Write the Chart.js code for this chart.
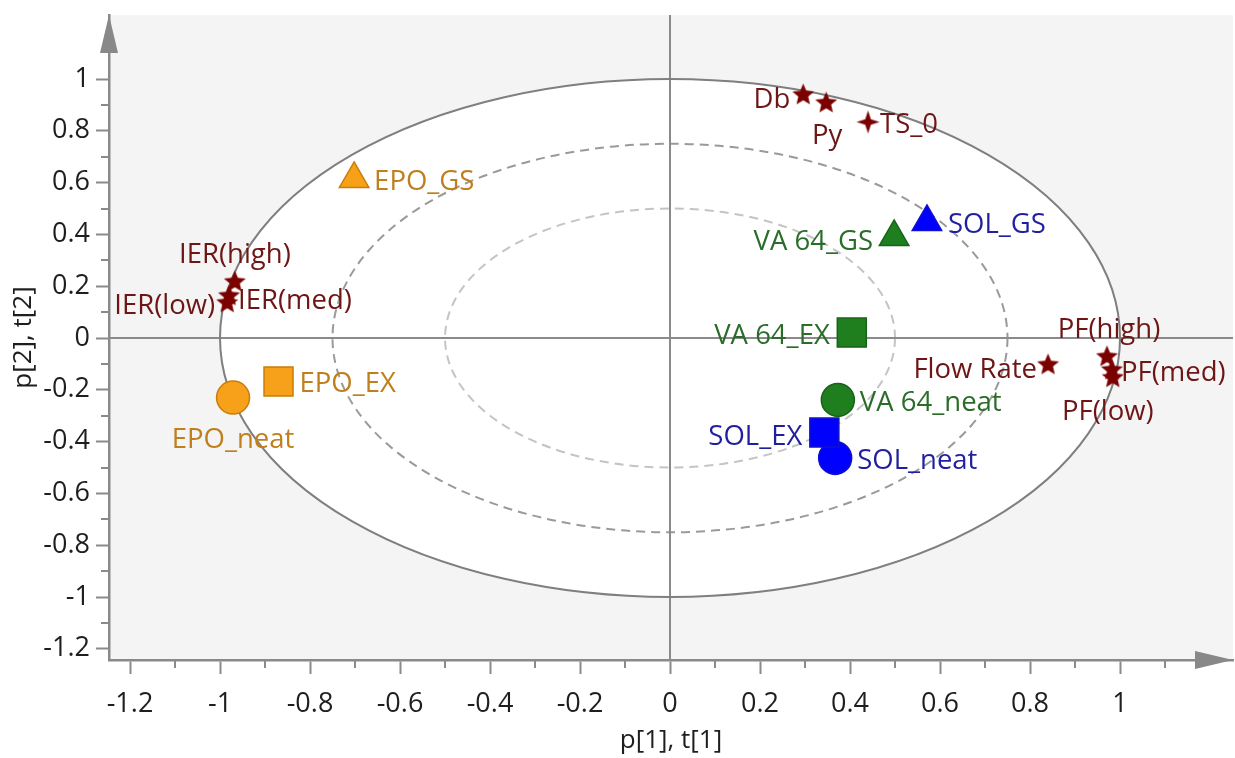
<!DOCTYPE html>
<html>
<head>
<meta charset="utf-8">
<script src="https://cdn.jsdelivr.net/npm/chart.js@4/dist/chart.umd.min.js"></script>
<style>
  html, body { margin: 0; padding: 0; background: #ffffff; }
  #wrap { width: 1235px; height: 758px; position: relative; }
</style>
</head>
<body>
<div id="wrap"><canvas id="c" width="1235" height="758"></canvas></div>
<script>
// ---------------- DATA ----------------
const obsNames = ['EPO_neat', 'EPO_EX', 'EPO_GS', 'VA 64_neat', 'VA 64_EX', 'VA 64_GS', 'SOL_neat', 'SOL_EX', 'SOL_GS'];
const obsX = [-0.971, -0.870, -0.702, 0.373, 0.404, 0.498, 0.367, 0.343, 0.571];
const obsY = [-0.230, -0.168, 0.614, -0.239, 0.021, 0.390, -0.463, -0.365, 0.448];

const varNames = ['Db', 'Py', 'TS_0', 'IER(high)', 'IER(med)', 'IER(low)', 'Flow Rate', 'PF(high)', 'PF(med)', 'PF(low)'];
const varX = [0.296, 0.347, 0.440, -0.967, -0.980, -0.984, 0.840, 0.971, 0.982, 0.984];
const varY = [0.938, 0.907, 0.834, 0.216, 0.162, 0.135, -0.104, -0.073, -0.124, -0.154];

const xTickLabels = ['-1.2', '-1', '-0.8', '-0.6', '-0.4', '-0.2', '0', '0.2', '0.4', '0.6', '0.8', '1'];
const yTickLabels = ['-1.2', '-1', '-0.8', '-0.6', '-0.4', '-0.2', '0', '0.2', '0.4', '0.6', '0.8', '1'];
const xMinorTicks = [-1.1, -0.9, -0.7, -0.5, -0.3, -0.1, 0.1, 0.3, 0.5, 0.7, 0.9, 1.1];
const yMinorTicks = [-1.1, -0.9, -0.7, -0.5, -0.3, -0.1, 0.1, 0.3, 0.5, 0.7, 0.9];
const ellipseLevels = [1, 0.75, 0.5];

const xTitle = 'p[1], t[1]';
const yTitle = 'p[2], t[2]';

// ---------------- STYLES ----------------
const FONT = "'Open Sans', 'DejaVu Sans', sans-serif";
const groupStyle = {
  'EPO':   { fill: '#f7a11a', border: '#c97d08', text: '#bf7f1c' },
  'VA 64': { fill: '#1f7f1f', border: '#176317', text: '#2a6d2a' },
  'SOL':   { fill: '#0000ff', border: '#1010d0', text: '#1f1fa0' },
  'VAR':   { fill: '#7b0000', border: '#7b0000', text: '#6e1515' }
};
// label placement for each observation / variable: [align, dx, dy]
const obsLabelPos = [['center', 0, 43], ['left', 21, 3], ['left', 20, 3], ['left', 22, 3], ['right', -22, 4], ['right', -21, 5], ['left', 22, 3], ['right', -22, 5], ['left', 21, 3]];
const varLabelPos = [['right', -13, 5], ['center', 1, 33], ['left', 12, 3], ['center', 0, -27], ['left', 9, 5], ['right', -12, 3], ['right', -11, 5], ['center', 2, -27], ['left', 9, 3], ['center', -5, 34]];

function groupOf(name) { return name.startsWith('EPO') ? 'EPO' : name.startsWith('VA 64') ? 'VA 64' : 'SOL'; }
function shapeOf(name) { return name.endsWith('_neat') ? 'circle' : name.endsWith('_EX') ? 'rect' : 'triangle'; }
function radiusOf(shape) { return shape === 'circle' ? 16.5 : shape === 'rect' ? 20.5 : 17; }

function makeStar(nPts, outerR, innerR, color) {
  const size = Math.ceil(outerR * 2 + 4);
  const c = document.createElement('canvas');
  c.width = size; c.height = size;
  const g = c.getContext('2d');
  g.translate(size / 2, size / 2);
  g.beginPath();
  for (let i = 0; i < nPts * 2; i++) {
    const r = i % 2 === 0 ? outerR : innerR;
    const a = -Math.PI / 2 + i * Math.PI / nPts;
    const px = r * Math.cos(a), py = r * Math.sin(a);
    if (i === 0) g.moveTo(px, py); else g.lineTo(px, py);
  }
  g.closePath();
  g.fillStyle = color;
  g.fill();
  return c;
}
const star5 = makeStar(5, 11.5, 5.2, groupStyle.VAR.fill);
const star4 = makeStar(4, 11.5, 4.0, groupStyle.VAR.fill);

// ---------------- DATASETS ----------------
const datasets = [];
['EPO', 'VA 64', 'SOL'].forEach(grp => {
  const idx = obsNames.map((n, i) => i).filter(i => groupOf(obsNames[i]) === grp);
  const st = groupStyle[grp];
  datasets.push({
    label: grp,
    data: idx.map(i => ({ x: obsX[i], y: obsY[i] })),
    names: idx.map(i => obsNames[i]),
    labelPos: idx.map(i => obsLabelPos[i]),
    textColor: st.text,
    pointStyle: idx.map(i => shapeOf(obsNames[i])),
    pointRadius: idx.map(i => radiusOf(shapeOf(obsNames[i]))),
    pointBackgroundColor: st.fill,
    pointBorderColor: st.border,
    pointBorderWidth: 1.5,
    showLine: false
  });
});
datasets.push({
  label: 'Variables',
  data: varNames.map((n, i) => ({ x: varX[i], y: varY[i] })),
  names: varNames,
  labelPos: varLabelPos,
  textColor: groupStyle.VAR.text,
  pointStyle: varNames.map(n => n === 'TS_0' ? star4 : star5),
  pointRadius: 11,
  showLine: false
});

// ---------------- PLUGINS ----------------
const near = (a, b) => Math.abs(a - b) < 1e-6;

const backgroundPlugin = {
  id: 'bg',
  beforeDraw(chart) {
    const { ctx, chartArea: a } = chart;
    ctx.save();
    ctx.fillStyle = '#f4f4f4';
    ctx.fillRect(a.left, a.top, a.right - a.left, a.bottom - a.top);
    ctx.restore();
  },
  beforeDatasetsDraw(chart) {
    const { ctx, chartArea: a, scales: { x, y } } = chart;
    const cx = x.getPixelForValue(0), cy = y.getPixelForValue(0);
    ctx.save();
    const r0 = ellipseLevels[0];
    const rx0 = x.getPixelForValue(r0) - cx, ry0 = cy - y.getPixelForValue(r0);
    ctx.beginPath();
    ctx.ellipse(cx, cy, rx0, ry0, 0, 0, Math.PI * 2);
    ctx.fillStyle = '#ffffff';
    ctx.fill();
    const dashCols = ['#9a9a9a', '#c4c4c4'];
    ellipseLevels.slice(1).forEach((r, k) => {
      const rx = x.getPixelForValue(r) - cx, ry = cy - y.getPixelForValue(r);
      ctx.beginPath();
      ctx.ellipse(cx, cy, rx, ry, 0, 0, Math.PI * 2);
      ctx.setLineDash([9, 6]);
      ctx.lineWidth = 2;
      ctx.strokeStyle = dashCols[k];
      ctx.stroke();
    });
    ctx.setLineDash([]);
    ctx.strokeStyle = '#8a8a8a';
    ctx.lineWidth = 2;
    ctx.beginPath();
    ctx.moveTo(cx, a.top); ctx.lineTo(cx, a.bottom);
    ctx.moveTo(a.left, cy); ctx.lineTo(a.right, cy);
    ctx.stroke();
    ctx.beginPath();
    ctx.ellipse(cx, cy, rx0, ry0, 0, 0, Math.PI * 2);
    ctx.strokeStyle = '#7f7f7f';
    ctx.lineWidth = 2;
    ctx.stroke();
    ctx.restore();
  },
  afterDatasetsDraw(chart) {
    const { ctx } = chart;
    ctx.save();
    ctx.font = "27.5px " + FONT;
    ctx.textBaseline = 'middle';
    chart.data.datasets.forEach((ds, di) => {
      const meta = chart.getDatasetMeta(di);
      meta.data.forEach((pt, j) => {
        const [align, dx, dy] = ds.labelPos[j];
        ctx.textAlign = align;
        ctx.fillStyle = ds.textColor;
        ctx.fillText(ds.names[j], pt.x + dx, pt.y + dy);
      });
    });
    ctx.restore();
  },
  afterDraw(chart) {
    const { ctx, chartArea: a, scales: { x, y } } = chart;
    ctx.save();
    ctx.strokeStyle = '#8a8a8a';
    ctx.lineWidth = 2;
    ctx.beginPath();
    xMinorTicks.forEach(v => {
      const px = Math.round(x.getPixelForValue(v));
      ctx.moveTo(px, a.bottom); ctx.lineTo(px, a.bottom + 8);
    });
    yMinorTicks.forEach(v => {
      const py = Math.round(y.getPixelForValue(v));
      ctx.moveTo(a.left, py); ctx.lineTo(a.left - 8, py);
    });
    ctx.stroke();
    ctx.fillStyle = '#888888';
    ctx.beginPath();
    ctx.moveTo(a.left, a.top);
    ctx.lineTo(a.left - 9, a.top + 38);
    ctx.lineTo(a.left + 9, a.top + 38);
    ctx.closePath();
    ctx.fill();
    ctx.beginPath();
    ctx.moveTo(a.right, a.bottom);
    ctx.lineTo(a.right - 38, a.bottom - 9);
    ctx.lineTo(a.right - 38, a.bottom + 9);
    ctx.closePath();
    ctx.fill();
    ctx.restore();
  }
};

// ---------------- CHART ----------------
const xMin = -1.2467, xMax = 1.2511, yMin = -1.2432, yMax = 1.2471;
const zeroPad = s => { s.paddingLeft = 0; s.paddingRight = 0; s.paddingTop = 0; s.paddingBottom = 0; };

new Chart(document.getElementById('c'), {
  type: 'scatter',
  data: { datasets },
  options: {
    responsive: false,
    devicePixelRatio: 1,
    animation: false,
    clip: false,
    layout: { autoPadding: false, padding: { top: 15, right: 2, left: 0, bottom: 0 } },
    plugins: { legend: { display: false }, tooltip: { enabled: false } },
    scales: {
      x: {
        type: 'linear',
        min: xMin, max: xMax,
        afterBuildTicks: s => { s.ticks = xTickLabels.map(l => ({ value: parseFloat(l) })); },
        afterFit: s => { s.height = 98; zeroPad(s); },
        ticks: {
          callback: v => { const l = xTickLabels.find(t => near(parseFloat(t), v)); return l || ''; },
          font: { family: FONT, size: 27 }, color: '#1e1e1e', padding: 14, maxRotation: 0, autoSkip: false
        },
        grid: { display: true, drawOnChartArea: false, drawTicks: true, tickLength: 14, tickColor: '#8a8a8a', tickWidth: 2 },
        border: { display: true, color: '#8a8a8a', width: 2.5 },
        title: { display: true, text: xTitle, font: { family: FONT, size: 26 }, color: '#1e1e1e', padding: { top: 0, bottom: 2 } }
      },
      y: {
        type: 'linear',
        min: yMin, max: yMax,
        afterBuildTicks: s => { s.ticks = yTickLabels.map(l => ({ value: parseFloat(l) })); },
        afterFit: s => { s.width = 109; zeroPad(s); },
        ticks: {
          callback: v => { const l = yTickLabels.find(t => near(parseFloat(t), v)); return l || ''; },
          font: { family: FONT, size: 27 }, color: '#1e1e1e', padding: 6, autoSkip: false
        },
        grid: { display: true, drawOnChartArea: false, drawTicks: true, tickLength: 13, tickColor: '#8a8a8a', tickWidth: 2 },
        border: { display: true, color: '#8a8a8a', width: 2.5 },
        title: { display: true, text: yTitle, font: { family: FONT, size: 26 }, color: '#1e1e1e', padding: { top: 8, bottom: 0 } }
      }
    }
  },
  plugins: [backgroundPlugin]
});
</script>
</body>
</html>
